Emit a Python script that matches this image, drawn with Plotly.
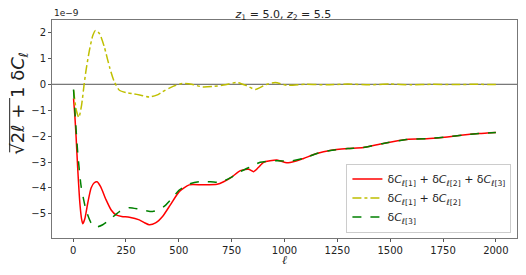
import plotly.graph_objects as go

# values in units of 1e-9
ell_total = [2, 8, 14, 22, 32, 40, 46, 55, 69, 85, 100, 113, 130, 156, 180, 203, 230, 266, 313, 340, 360, 390, 423, 460, 502, 549, 612, 681, 712, 750, 791, 830, 854, 875, 901, 964, 1011, 1050, 1090, 1153, 1216, 1300, 1373, 1467, 1577, 1687, 1770, 1845, 1920, 2000]
total = [-0.55, -1.2, -2.03, -3.3, -4.6, -5.2, -5.38, -5.2, -4.59, -4.0, -3.8, -3.76, -3.95, -4.46, -4.85, -5.04, -5.1, -5.13, -5.23, -5.35, -5.42, -5.35, -5.1, -4.65, -4.14, -3.88, -3.88, -3.86, -3.76, -3.58, -3.33, -3.28, -3.37, -3.22, -3.01, -2.92, -3.03, -2.97, -2.86, -2.67, -2.55, -2.48, -2.44, -2.28, -2.13, -2.09, -2.03, -1.96, -1.9, -1.86]

ell_12 = [2, 15, 27, 40, 52, 61, 77, 93, 106, 125, 148, 172, 195, 219, 250, 282, 320, 360, 395, 423, 455, 486, 517, 560, 612, 665, 720, 775, 820, 862, 910, 956, 1011, 1100, 1200, 1300, 1400, 1500, 1600, 1700, 1800, 1900, 2000]
dc12 = [-0.23, -1.0, -1.28, -0.8, 0.0, 0.54, 1.31, 1.88, 2.08, 1.95, 1.43, 0.67, 0.09, -0.23, -0.32, -0.36, -0.42, -0.49, -0.42, -0.29, -0.15, -0.04, 0.03, 0.0, -0.1, -0.08, -0.02, 0.07, -0.05, -0.2, -0.02, 0.07, -0.04, 0.0, -0.02, 0.01, -0.02, 0.01, -0.02, 0.0, -0.01, 0.0, -0.01]

ell_3 = [2, 11, 22, 38, 61, 85, 109, 140, 172, 219, 266, 313, 376, 410, 439, 470, 502, 549, 596, 650, 697, 745, 791, 840, 885, 964, 1027, 1090, 1153, 1216, 1300, 1373, 1467, 1577, 1687, 1770, 1845, 1920, 2000]
dc3 = [-0.2, -1.38, -2.67, -3.95, -4.85, -5.35, -5.51, -5.42, -5.23, -4.91, -4.76, -4.82, -4.91, -4.82, -4.65, -4.38, -4.08, -3.85, -3.76, -3.76, -3.78, -3.6, -3.37, -3.18, -3.01, -2.95, -2.96, -2.86, -2.67, -2.55, -2.48, -2.44, -2.28, -2.13, -2.09, -2.03, -1.96, -1.9, -1.86]

x_ticks = [0, 250, 500, 750, 1000, 1250, 1500, 1750, 2000]
y_ticks = [-5, -4, -3, -2, -1, 0, 1, 2]

names = [
    "δ<i>C</i><sub><i>ℓ</i>[1]</sub> + δ<i>C</i><sub><i>ℓ</i>[2]</sub> + δ<i>C</i><sub><i>ℓ</i>[3]</sub>",
    "δ<i>C</i><sub><i>ℓ</i>[1]</sub> + δ<i>C</i><sub><i>ℓ</i>[2]</sub>",
    "δ<i>C</i><sub><i>ℓ</i>[3]</sub>",
]

fig = go.Figure()
fig.add_hline(y=0, line=dict(color="#555555", width=1), layer="below")
fig.add_trace(go.Scatter(x=ell_total, y=total, mode="lines", name=names[0],
                         line=dict(color="red", width=1.5, shape="spline", smoothing=0.6)))
fig.add_trace(go.Scatter(x=ell_12, y=dc12, mode="lines", name=names[1],
                         line=dict(color="#bfbf00", width=1.5, dash="dashdot", shape="spline", smoothing=0.6)))
fig.add_trace(go.Scatter(x=ell_3, y=dc3, mode="lines", name=names[2],
                         line=dict(color="green", width=1.5, dash="dash", shape="spline", smoothing=0.6)))

axis_common = dict(showgrid=False, zeroline=False, showline=True, linecolor="#777777", linewidth=1,
                   mirror=True, ticks="outside", ticklen=3, tickcolor="#555555", automargin=False,
                   tickfont=dict(family="DejaVu Sans", size=10, color="#222222"))

# the page body has an 8px margin, so the figure is sized to fit inside it
fig.update_layout(
    width=510, height=259,
    margin=dict(l=44, r=1, t=12, b=29, autoexpand=False),
    plot_bgcolor="white", paper_bgcolor="white",
    showlegend=True,
    legend=dict(x=0.988, y=0.025, xanchor="right", yanchor="bottom",
                bgcolor="rgba(255,255,255,0.9)", bordercolor="#cccccc", borderwidth=1,
                font=dict(family="DejaVu Sans", size=11, color="#222222"),
                tracegroupgap=0, itemwidth=30),
    xaxis=dict(range=[-100, 2100], tickvals=x_ticks, **axis_common),
    yaxis=dict(range=[-5.93, 2.48], tickvals=y_ticks, **axis_common),
    title=dict(text="<i>z</i><sub>1</sub> = 5.0, <i>z</i><sub>2</sub> = 5.5", x=0.54, xanchor="center",
               y=0.992, yanchor="top", font=dict(family="DejaVu Sans", size=11, color="#222222")),
)

fig.add_annotation(text="1e−9", xref="paper", yref="paper", x=0, y=1.0, xanchor="left", yanchor="bottom",
                   showarrow=False, font=dict(family="DejaVu Sans", size=9, color="#222222"))
fig.add_annotation(text="<i>ℓ</i>", xref="paper", yref="paper", x=0.5, y=-0.103, xanchor="center", yanchor="middle",
                   showarrow=False, font=dict(family="DejaVu Serif", size=12, color="#222222"))
fig.add_annotation(text="√2<i>ℓ</i> + 1 δ<i>C<sub>ℓ</sub></i>",
                   xref="paper", yref="paper", x=-0.071, y=0.62, xanchor="center", yanchor="middle",
                   textangle=-90, showarrow=False, font=dict(family="DejaVu Sans", size=18, color="#222222"))
# overline of the square root
fig.add_shape(type="line", xref="paper", yref="paper", x0=-0.091, x1=-0.091, y0=0.393, y1=0.642,
              line=dict(color="#222222", width=1))

fig.write_html("out.html")
